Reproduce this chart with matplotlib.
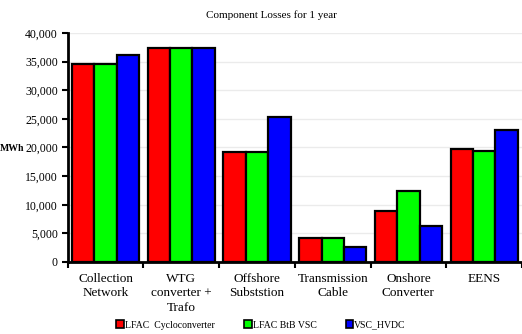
import matplotlib
matplotlib.use("Agg")
import matplotlib.pyplot as plt
import numpy as np
from matplotlib.ticker import FuncFormatter, MultipleLocator
from matplotlib.patches import Patch

categories = ["Collection\nNetwork", "WTG\nconverter +\nTrafo", "Offshore\nSubststion",
              "Transmission\nCable", "Onshore\nConverter", "EENS"]
series_names = ["LFAC  Cycloconverter", "LFAC BtB VSC", "VSC_HVDC"]
lfac_cyclo = [34500, 37300, 19200, 4200, 8900, 19700]
lfac_btb = [34500, 37300, 19200, 4200, 12400, 19450]
vsc_hvdc = [36200, 37300, 25400, 2700, 6200, 23100]
colors = ["#FF0000", "#00FF00", "#0000FF"]

plt.rcParams['font.family'] = ['Liberation Serif', 'DejaVu Serif']

fig = plt.figure(figsize=(5.22, 3.34), dpi=100)
ax = fig.add_axes([0.1297, 0.2156, 0.8703, 0.6856])

x = np.arange(len(categories))
w = 0.296
for i, (vals, c, name) in enumerate(zip([lfac_cyclo, lfac_btb, vsc_hvdc], colors, series_names)):
    ax.bar(x + (i - 1) * w, vals, width=w, color=c, edgecolor="black", linewidth=1.6,
           label=name, zorder=3)

ax.set_xlim(-0.5, len(categories) - 0.5)
ax.set_ylim(0, 40000)
ax.yaxis.set_major_locator(MultipleLocator(5000))
ax.yaxis.set_major_formatter(FuncFormatter(lambda v, p: f"{int(v):,}"))
ax.grid(axis="y", color="#EBEBEB", linewidth=1.0, zorder=0)
ax.set_axisbelow(True)

for s in ["top", "right"]:
    ax.spines[s].set_visible(False)
ax.spines["left"].set_linewidth(2)
ax.spines["bottom"].set_linewidth(2)

ax.tick_params(axis="y", labelsize=8.5, length=4, width=1.5, direction="out", pad=3)
ax.set_xticks(np.arange(-0.5, len(categories) - 0.4, 1.0))
ax.set_xticklabels([])
ax.tick_params(axis="x", length=4, width=1.5, direction="out")
ax.set_xticks(x, minor=True)
ax.set_xticklabels(categories, minor=True, fontsize=9.5, linespacing=1.25)
ax.tick_params(axis="x", which="minor", length=0, pad=8)

ax.set_ylabel("MWh", rotation=0, fontsize=7, fontweight="bold", ha="center", va="center")
ax.yaxis.set_label_coords(-0.122, 0.495)

fig.text(0.52, 0.955, "Component Losses for 1 year", ha="center", va="center", fontsize=8)

handles = [Patch(facecolor=c, edgecolor="black", linewidth=1.2) for c in colors]
fig.legend(handles, series_names, loc="center", bbox_to_anchor=(0.5, 0.027), ncol=3,
           frameon=False, fontsize=7, handlelength=0.8, handleheight=0.8,
           handletextpad=0.1, columnspacing=3.0)

fig.savefig("out.png", dpi=100)
